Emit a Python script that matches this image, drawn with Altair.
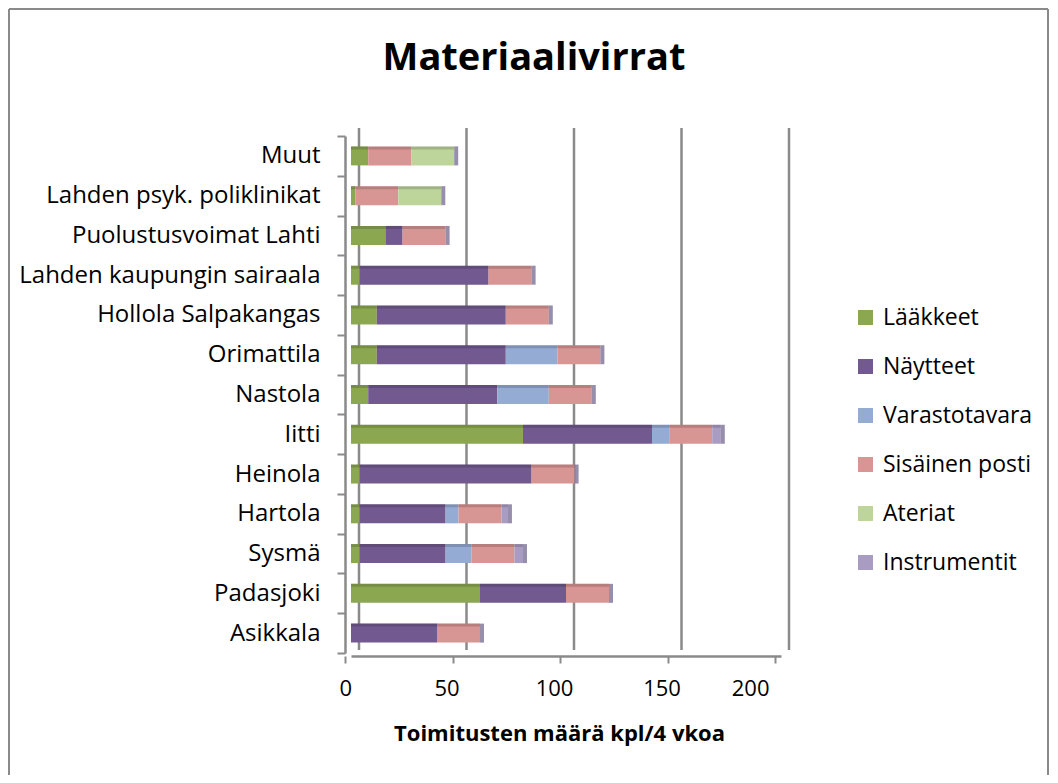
import altair as alt
import pandas as pd

categories = [
    "Muut", "Lahden psyk. poliklinikat", "Puolustusvoimat Lahti",
    "Lahden kaupungin sairaala", "Hollola Salpakangas", "Orimattila",
    "Nastola", "Iitti", "Heinola", "Hartola", "Sysmä", "Padasjoki", "Asikkala",
]
series = ["Lääkkeet", "Näytteet", "Varastotavara", "Sisäinen posti", "Ateriat", "Instrumentit"]
colors = ["#8BA74F", "#72598F", "#94ABD3", "#D79593", "#BDD49B", "#A99CC3"]

laakkeet      = [8, 2, 16, 4, 12, 12, 8, 80, 4, 4, 4, 60, 0]
naytteet      = [0, 0, 8, 60, 60, 60, 60, 60, 80, 40, 40, 40, 40]
varastotavara = [0, 0, 0, 0, 0, 24, 24, 8, 0, 6, 12, 0, 0]
sisainen      = [20, 20, 20, 20, 20, 20, 20, 20, 20, 20, 20, 20, 20]
ateriat       = [20, 20, 0, 0, 0, 0, 0, 0, 0, 0, 0, 0, 0]
instrumentit  = [0, 0, 0, 0, 0, 0, 0, 4, 0, 3, 4, 0, 0]
x_ticks = [0, 50, 100, 150, 200]

title_text = "Materiaalivirrat"
x_title = "Toimitusten määrä kpl/4 vkoa"

all_vals = [laakkeet, naytteet, varastotavara, sisainen, ateriat, instrumentit]
rows = []
for si, (s, vals) in enumerate(zip(series, all_vals)):
    for c, v in zip(categories, vals):
        rows.append({"kohde": c, "laji": s, "maara": v, "jarj": si})
df = pd.DataFrame(rows)
totals = pd.DataFrame({
    "kohde": categories,
    "yht": [sum(v[i] for v in all_vals) for i in range(len(categories))],
})
grid_df = pd.DataFrame({"v": x_ticks})

W, H = 430, 517
FONT = "Open Sans"
GRAY = "#8a8a8a"

xscale = alt.Scale(domain=[0, 200], nice=False)
yscale = alt.Scale(domain=categories, paddingInner=0, paddingOuter=0)
yaxis = alt.Axis(
    title=None, offset=6, tickBand="extent", tickSize=8, tickWidth=2,
    tickColor=GRAY, domainColor=GRAY, domainWidth=2.5, labelPadding=17,
    labelFontSize=24, labelFont=FONT, labelColor="black", labelLimit=400,
)
xaxis = alt.Axis(
    values=x_ticks, title=x_title, grid=False, offset=3, tickSize=7,
    tickWidth=2, tickColor=GRAY, domainColor=GRAY, domainWidth=2.5,
    tickOffset=-6, labelOffset=-6, labelPadding=15, labelFontSize=22,
    labelFont=FONT, labelColor="black", titleFont=FONT, titleFontSize=22,
    titleFontWeight="bold", titleColor="black", titleX=208, titleY=84,
    titleAlign="center", titleBaseline="alphabetic",
)

grid = alt.Chart(grid_df).mark_rule(color=GRAY, strokeWidth=2.5, xOffset=8).encode(
    x=alt.X("v:Q", scale=xscale, axis=xaxis),
    y=alt.value(-8),
    y2=alt.value(H - 3),
)

bars = alt.Chart(df).mark_bar(size=19).encode(
    y=alt.Y("kohde:N", sort=categories, scale=yscale, axis=yaxis),
    x=alt.X("maara:Q", stack="zero", scale=xscale, axis=xaxis),
    color=alt.Color(
        "laji:N",
        scale=alt.Scale(domain=series, range=colors),
        legend=alt.Legend(
            orient="none", legendX=503, legendY=170, title=None,
            symbolType="square", symbolSize=225, symbolStrokeWidth=0,
            labelFontSize=23, labelFont=FONT, labelColor="black",
            rowPadding=25, labelOffset=6,
        ),
    ),
    order=alt.Order("jarj:Q", sort="ascending"),
)

top_strip = alt.Chart(totals).mark_bar(size=3, yOffset=-8, color="black", opacity=0.15).encode(
    y=alt.Y("kohde:N", sort=categories, scale=yscale, axis=yaxis),
    x=alt.X("yht:Q", scale=xscale, axis=xaxis),
)

caps = alt.Chart(totals).mark_tick(thickness=4, size=19, xOffset=2, color="#6b5e88").encode(
    y=alt.Y("kohde:N", sort=categories, scale=yscale, axis=yaxis),
    x=alt.X("yht:Q", scale=xscale, axis=xaxis),
)

one = alt.Data(values=[{"a": 1}])
title_mark = alt.Chart(one).mark_text(
    text=title_text, font=FONT, fontSize=38, fontWeight="bold",
    align="center", baseline="alphabetic", color="black",
).encode(x=alt.value(W / 2 - 32), y=alt.value(-66))

frame_left = alt.Chart(one).mark_rule(color=GRAY, strokeWidth=2).encode(
    x=alt.value(-342), y=alt.value(-127), y2=alt.value(H + 122))
frame_right = alt.Chart(one).mark_rule(color=GRAY, strokeWidth=2).encode(
    x=alt.value(697), y=alt.value(-127), y2=alt.value(H + 122))
frame_top = alt.Chart(one).mark_rule(color=GRAY, strokeWidth=2).encode(
    x=alt.value(-342), x2=alt.value(697), y=alt.value(-127))

chart = alt.layer(
    grid, bars, top_strip, caps, title_mark, frame_left, frame_right, frame_top
).properties(
    width=W, height=H,
    padding={"left": 343, "top": 128, "right": 269, "bottom": 122},
    autosize=alt.AutoSizeParams(type="none"),
    background="white",
).configure_view(stroke=None)

chart.save("out.html", embed_options={"renderer": "svg", "actions": False})
